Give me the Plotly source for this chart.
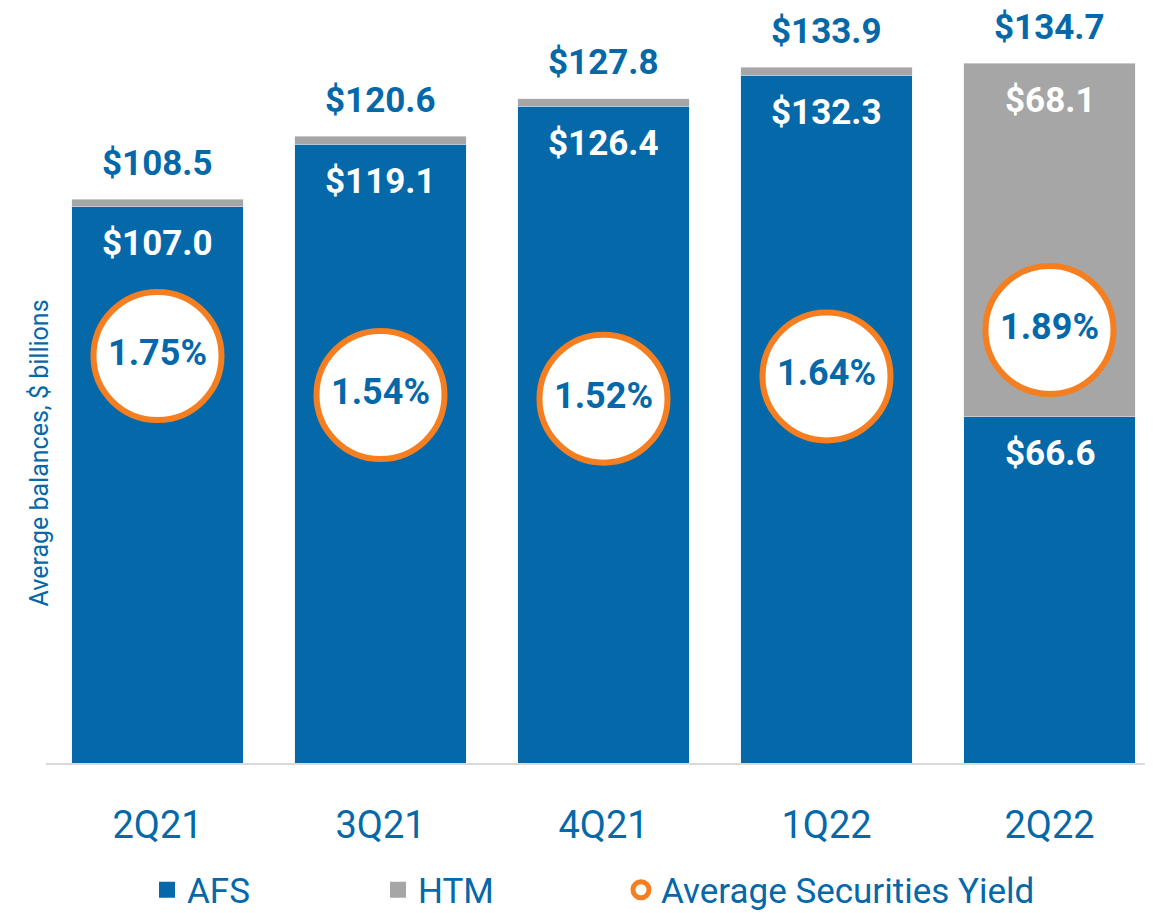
import plotly.graph_objects as go

quarters = ["2Q21", "3Q21", "4Q21", "1Q22", "2Q22"]
afs = [107.0, 119.1, 126.4, 132.3, 66.6]
htm = [1.5, 1.5, 1.4, 1.6, 68.1]
totals = [108.5, 120.6, 127.8, 133.9, 134.7]
yields = [1.75, 1.54, 1.52, 1.64, 1.89]

BLUE = "#0568A8"
GRAY = "#A6A6A6"
ORANGE = "#F57F20"
FONT = "Roboto"

x = list(range(len(quarters)))
W, H = 1153, 913
OFF = 8                      # page body margin offset
ML = 46 - OFF
BASE = 763 - OFF             # baseline in figure px
MB = H - BASE
PW = W - ML

fig = go.Figure()
fig.add_trace(go.Bar(x=x, y=afs, marker_color=BLUE, width=0.771, showlegend=False,
                     hoverinfo="skip"))
fig.add_trace(go.Bar(x=x, y=htm, marker_color=GRAY, width=0.771, showlegend=False,
                     hoverinfo="skip"))

# legend-only entries
fig.add_trace(go.Scatter(x=[None], y=[None], mode="markers", name="AFS",
                         marker=dict(symbol="square", size=20, color=BLUE),
                         legend="legend"))
fig.add_trace(go.Scatter(x=[None], y=[None], mode="markers", name="HTM",
                         marker=dict(symbol="square", size=20, color=GRAY),
                         legend="legend2"))

fig.add_trace(go.Scatter(x=x, y=yields, yaxis="y2", mode="markers+text",
                         name="Average Securities Yield",
                         marker=dict(size=128, color="white",
                                     line=dict(color=ORANGE, width=6)),
                         text=[f"{v:.2f}%" for v in yields],
                         textposition="middle center",
                         textfont=dict(family=FONT, size=36, color=BLUE, weight="bold"),
                         legend="legend3", hoverinfo="skip"))

LBL = 35
ann = []
for i in x:
    ann.append(dict(x=i, y=totals[i], text=f"${totals[i]:.1f}", showarrow=False,
                    yshift=36, font=dict(family=FONT, size=LBL, color=BLUE, weight="bold")))
    ann.append(dict(x=i, y=afs[i], text=f"${afs[i]:.1f}", showarrow=False,
                    yshift=-37, font=dict(family=FONT, size=LBL, color="white", weight="bold")))
    if htm[i] > 10:
        ann.append(dict(x=i, y=totals[i], text=f"${htm[i]:.1f}", showarrow=False,
                        yshift=-37, font=dict(family=FONT, size=LBL, color="white", weight="bold")))

ann.append(dict(xref="paper", yref="paper", x=(22 - OFF - ML) / PW, y=(BASE - (453 - OFF)) / BASE,
                text="Average balances, $ billions", textangle=-90, showarrow=False,
                font=dict(family=FONT, size=25, color=BLUE)))

px_per_unit = 700 / 134.7
ymax = BASE / px_per_unit
y_175 = 356 - OFF
y2_per_px = 1 / 185.7

leg_common = dict(orientation="h", yanchor="middle", y=(BASE - (890 - OFF)) / BASE,
                  xanchor="left", bgcolor="rgba(0,0,0,0)", borderwidth=0,
                  font=dict(family=FONT, size=35, color=BLUE), itemsizing="trace")

fig.update_layout(
    width=W, height=H,
    margin=dict(l=ML, r=0, t=0, b=MB, autoexpand=False),
    paper_bgcolor="white", plot_bgcolor="white",
    barmode="stack",
    xaxis=dict(range=[-0.5, -0.5 + PW / 223], tickvals=x, ticktext=quarters,
               showgrid=False, zeroline=False, showline=True, linecolor="#D9D9D9",
               linewidth=2, ticks="", ticklabelstandoff=27,
               tickfont=dict(family=FONT, size=38, color=BLUE)),
    yaxis=dict(range=[0, ymax], visible=False, showgrid=False),
    yaxis2=dict(range=[1.75 - (BASE - y_175) * y2_per_px, 1.75 + y_175 * y2_per_px],
                overlaying="y", visible=False, showgrid=False),
    annotations=ann,
    legend=dict(x=(147 - OFF - ML) / PW, **leg_common),
    legend2=dict(x=(378 - OFF - ML) / PW, **leg_common),
    legend3=dict(x=(621 - OFF - ML) / PW, **leg_common),
)

fig.write_html("out.html")
